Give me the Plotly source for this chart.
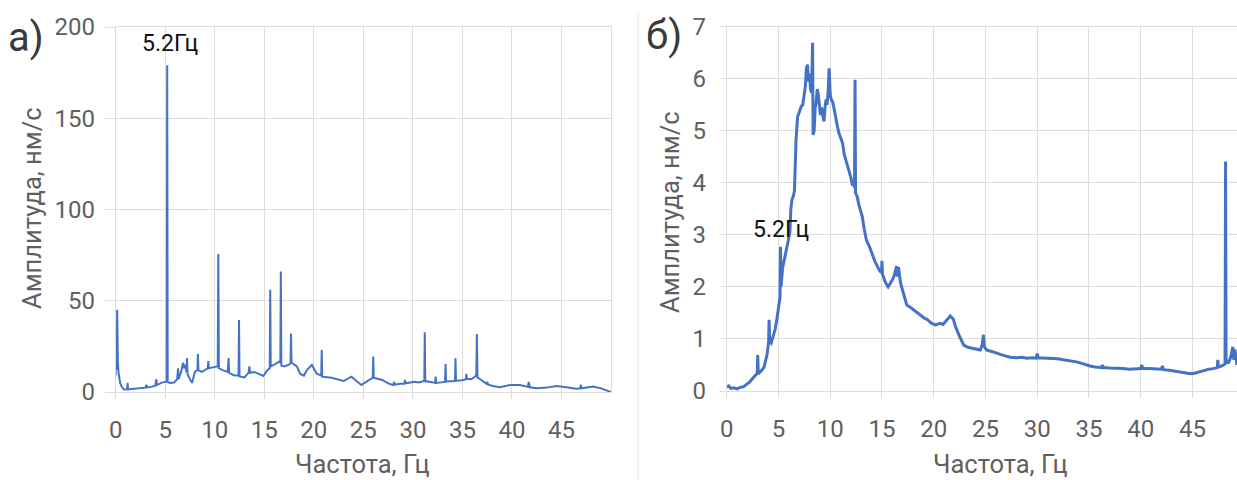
import plotly.graph_objects as go

W, H = 1237, 480

# ---- data: panel а) ----
LEFT_FREQ = [0.0, 0.05, 0.1, 0.15, 0.22, 0.3, 0.45, 0.6, 0.8, 1.0, 1.15, 1.2, 1.25, 1.6, 2.0, 2.5, 3.0, 3.1, 3.15,
             3.6, 4.0, 4.1, 4.15, 4.6, 5.0, 5.15, 5.2, 5.25, 5.5, 5.9, 6.2, 6.3, 6.35, 6.6, 6.8, 6.9, 7.0, 7.15,
             7.2, 7.25, 7.4, 7.7, 8.0, 8.25, 8.3, 8.35, 8.7, 9.1, 9.3, 9.35, 9.4, 9.8, 10.3, 10.36, 10.42, 10.8,
             11.3, 11.4, 11.45, 12.0, 12.4, 12.45, 12.5, 13.0, 13.4, 13.5, 13.55, 14.0, 14.5, 14.9, 15.3, 15.55,
             15.6, 15.65, 16.0, 16.5, 16.62, 16.67, 16.72, 17.0, 17.5, 17.65, 17.7, 17.75, 18.3, 18.6, 19.0,
             19.3, 19.8, 20.3, 20.75, 20.8, 20.85, 21.8, 23.0, 23.8, 24.3, 24.8, 25.4, 25.95, 26.0, 26.05, 26.9,
             27.6, 28.0, 28.1, 28.2, 28.7, 29.15, 29.2, 29.25, 30.2, 30.6, 31.15, 31.2, 31.25, 31.8, 32.25, 32.3,
             32.35, 33.25, 33.3, 33.35, 34.25, 34.3, 34.35, 35.0, 35.35, 35.4, 35.45, 35.9, 36.4, 36.46, 36.52,
             36.9, 37.4, 37.5, 37.6, 38.2, 38.8, 39.8, 40.8, 41.6, 41.7, 41.8, 42.5, 43.5, 44.5, 45.5, 46.5,
             46.9, 46.95, 47.0, 47.6, 48.2, 49.0, 49.6, 50.0]
LEFT_AMP = [9, 34, 12, 45, 16, 10, 5, 3, 1.5, 1.2, 1.4, 5, 1.4, 1.6, 1.8, 2.0, 2.4, 4, 2.5,
            2.8, 3.4, 7, 3.8, 5, 5.6, 5.8, 179, 5.5, 5, 5.2, 7, 13, 7, 11, 16, 13, 15, 11,
            18.6, 10, 8, 5, 11, 12, 20.8, 12, 11, 12.5, 13, 17, 13, 13.5, 14, 75.6, 13, 12,
            11, 18.6, 10.5, 9, 9, 39.5, 8.5, 8, 10.5, 14, 10.5, 11, 10, 8.8, 12, 13,
            56, 14, 15, 16.6, 16, 66, 14.5, 14, 15, 16, 32, 16, 14, 10, 9,
            12, 14.8, 10, 9, 23, 8.4, 7.8, 6, 8.4, 6, 3.8, 6, 7.8, 19.4, 7.8, 6.6,
            4.5, 3.8, 5.5, 4, 4.5, 4.5, 6.6, 4.8, 5.6, 5.2, 6, 32.7, 6, 5.5, 5, 8.4,
            5, 5.5, 15.3, 5.8, 6, 18.5, 6.2, 6.5, 7, 10, 7.2, 7, 9, 31.8, 8,
            6.6, 4.5, 5.5, 4, 3.2, 2.6, 3.8, 3.8, 2.8, 5.5, 2.6, 2, 2.4, 3.3, 2.6, 1.8,
            2, 4, 2, 2.4, 3, 2, 0.8, 0]

# ---- data: panel б) ----
RIGHT_FREQ = [0.0, 0.2, 0.4, 0.7, 1.0, 1.3, 1.6, 1.9, 2.2, 2.5, 2.8, 2.95, 3.0, 3.05, 3.3, 3.6, 3.9, 4.05, 4.1,
              4.15, 4.3, 4.5, 4.7, 4.9, 5.05, 5.15, 5.2, 5.25, 5.4, 5.6, 5.9, 6.1, 6.2, 6.3, 6.45, 6.55, 6.7,
              6.85, 7.0, 7.2, 7.35, 7.5, 7.6, 7.7, 7.8, 7.9, 8.0, 8.1, 8.2, 8.3, 8.35, 8.45, 8.55, 8.65, 8.75,
              8.85, 8.95, 9.05, 9.15, 9.3, 9.4, 9.5, 9.6, 9.7, 9.8, 9.9, 10.0, 10.1, 10.25, 10.4, 10.55, 10.7,
              10.85, 11.0, 11.2, 11.35, 11.5, 11.6, 11.8, 12.0, 12.15, 12.3, 12.35, 12.4, 12.45, 12.6, 12.8,
              13.0, 13.1, 13.3, 13.5, 13.8, 14.1, 14.3, 14.5, 14.8, 14.95, 15.0, 15.05, 15.3, 15.6, 15.9, 16.1,
              16.3, 16.4, 16.5, 16.6, 16.8, 17.1, 17.4, 17.8, 18.1, 18.4, 18.8, 19.1, 19.4, 19.8, 20.2, 20.6,
              20.9, 21.2, 21.6, 21.9, 22.1, 22.5, 22.9, 23.3, 23.8, 24.2, 24.5, 24.7, 24.8, 24.9, 25.1, 25.6,
              26.1, 26.5, 27.0, 27.4, 28.0, 28.5, 29.0, 29.5, 29.9, 30.0, 30.1, 31.0, 32.0, 32.5, 33.0, 33.5,
              33.8, 34.3, 34.7, 35.1, 35.6, 36.2, 36.3, 36.4, 37.0, 37.7, 38.3, 38.9, 39.5, 40.0, 40.1, 40.2,
              40.8, 41.4, 42.0, 42.1, 42.2, 42.8, 43.4, 44.0, 44.4, 44.8, 45.2, 45.6, 46.1, 46.6, 47.0, 47.4,
              47.45, 47.5, 47.8, 48.0, 48.15, 48.2, 48.25, 48.5, 48.7, 48.9, 49.0, 49.1, 49.3]
RIGHT_AMP = [0.08, 0.1, 0.05, 0.06, 0.04, 0.07, 0.08, 0.12, 0.17, 0.24, 0.3, 0.34, 0.69, 0.33, 0.38, 0.45, 0.7, 0.95, 1.37,
             0.95, 0.92, 1.05, 1.2, 1.45, 1.72, 1.8, 2.77, 2.0, 2.36, 2.55, 2.9, 3.04, 3.5, 3.67, 3.75, 3.85, 4.83,
             5.27, 5.35, 5.47, 5.5, 5.73, 5.85, 6.2, 6.27, 5.95, 6.1, 5.8, 5.73, 6.69, 4.92, 5.0, 5.45, 5.55, 5.8,
             5.7, 5.5, 5.3, 5.45, 5.3, 5.18, 5.45, 5.6, 5.5, 5.75, 6.2, 5.7, 5.6, 5.55, 5.4, 5.2, 5.08,
             4.95, 4.85, 4.76, 4.55, 4.45, 4.38, 4.2, 4.1, 3.95, 4.0, 3.9, 5.98, 3.8, 3.74, 3.55,
             3.4, 3.35, 3.1, 2.9, 2.77, 2.6, 2.5, 2.42, 2.3, 2.28, 2.5, 2.25, 2.1, 2.0, 2.12, 2.17,
             2.3, 2.4, 2.2, 2.38, 2.07, 1.85, 1.65, 1.6, 1.55, 1.5, 1.45, 1.4, 1.37, 1.3, 1.27, 1.3,
             1.28, 1.34, 1.44, 1.38, 1.24, 1.05, 0.88, 0.84, 0.82, 0.8, 0.79, 0.9, 1.08, 0.85, 0.79, 0.76,
             0.72, 0.7, 0.67, 0.65, 0.64, 0.65, 0.63, 0.64, 0.63, 0.72, 0.64, 0.63, 0.62, 0.6, 0.59, 0.57,
             0.56, 0.53, 0.5, 0.48, 0.46, 0.45, 0.5, 0.45, 0.44, 0.44, 0.43, 0.42, 0.43, 0.43, 0.5, 0.43,
             0.43, 0.42, 0.42, 0.48, 0.41, 0.4, 0.38, 0.36, 0.34, 0.33, 0.34, 0.36, 0.4, 0.42, 0.43, 0.45,
             0.6, 0.46, 0.48, 0.5, 0.52, 4.41, 0.55, 0.55, 0.65, 0.85, 0.6, 0.8, 0.5]

LEFT_XTICKS = [0, 5, 10, 15, 20, 25, 30, 35, 40, 45]
LEFT_YTICKS = [0, 50, 100, 150, 200]
RIGHT_XTICKS = [0, 5, 10, 15, 20, 25, 30, 35, 40, 45]
RIGHT_YTICKS = [0, 1, 2, 3, 4, 5, 6, 7]

BLUE = "#4472C4"
GRID = "#dcdcdc"
TXT = "#5f5f5f"
FONT = "Roboto"

fig = go.Figure()
fig.add_trace(go.Scatter(x=LEFT_FREQ, y=LEFT_AMP, mode="lines",
                         line=dict(color=BLUE, width=2), xaxis="x", yaxis="y", showlegend=False))
fig.add_trace(go.Scatter(x=RIGHT_FREQ, y=RIGHT_AMP, mode="lines",
                         line=dict(color=BLUE, width=3), xaxis="x2", yaxis="y2", showlegend=False))

def px_x(p):
    return p / W

def px_y(p):
    return 1 - p / H

axis_common = dict(showgrid=True, gridcolor=GRID, gridwidth=1, zeroline=False,
                   showline=True, linecolor=GRID, linewidth=1, mirror=True,
                   tickfont=dict(family=FONT, size=24, color=TXT),
                   ticks="outside", tickcolor=GRID, automargin=False)

fig.update_layout(
    width=W, height=H, margin=dict(l=0, r=0, t=0, b=0, autoexpand=False),
    paper_bgcolor="white", plot_bgcolor="white",
    xaxis=dict(domain=[px_x(115.7), px_x(611)], range=[0, 50], tickvals=LEFT_XTICKS,
               anchor="y", ticklen=6, ticklabelstandoff=10, **axis_common),
    yaxis=dict(domain=[px_y(392), px_y(27)], range=[0, 200], tickvals=LEFT_YTICKS,
               anchor="x", ticklen=10, ticklabelstandoff=5, **axis_common),
    xaxis2=dict(domain=[px_x(726.7), 1.0], range=[0, (W - 726.7) / 10.35], tickvals=RIGHT_XTICKS,
                anchor="y2", ticklen=6, ticklabelstandoff=10, **axis_common),
    yaxis2=dict(domain=[px_y(391), px_y(26.7)], range=[0, 7], tickvals=RIGHT_YTICKS,
                anchor="x2", ticklen=7, ticklabelstandoff=8, **axis_common),
)

annots = [
    dict(text="а)", x=px_x(26), y=px_y(38), size=40, color="#3a3a3a"),
    dict(text="б)", x=px_x(664), y=px_y(36), size=40, color="#3a3a3a"),
    dict(text="5.2Гц", x=px_x(170), y=px_y(43), size=23, color="#111111"),
    dict(text="5.2Гц", x=px_x(781), y=px_y(229), size=23, color="#111111"),
    dict(text="Амплитуда, нм/с", x=px_x(32), y=px_y(208), size=25.5, color=TXT, angle=-90),
    dict(text="Амплитуда, нм/с", x=px_x(670), y=px_y(212), size=25.5, color=TXT, angle=-90),
]
for a in annots:
    fig.add_annotation(text=a["text"], x=a["x"], y=a["y"], xref="paper", yref="paper",
                       showarrow=False, xanchor="center", yanchor="middle",
                       textangle=a.get("angle", 0),
                       font=dict(family=FONT, size=a["size"], color=a["color"]))

# x-axis titles sit at the very bottom edge
for cx in (362, 1000):
    fig.add_annotation(text="Частота, Гц", x=px_x(cx), y=0, xref="paper", yref="paper",
                       showarrow=False, xanchor="center", yanchor="bottom", borderpad=0,
                       font=dict(family=FONT, size=25.5, color=TXT))

fig.add_shape(type="line", xref="paper", yref="paper",
              x0=px_x(638), x1=px_x(638), y0=px_y(13), y1=0,
              line=dict(color="#e2e2e2", width=1))

fig.write_html("out.html")
